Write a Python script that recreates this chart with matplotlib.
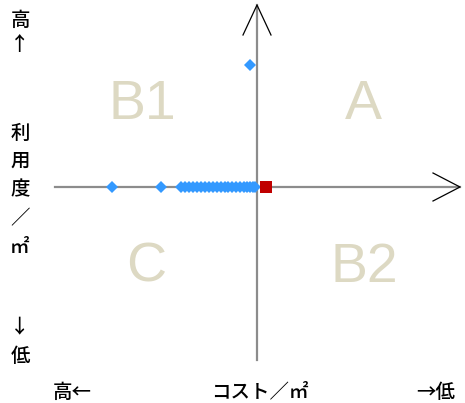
import matplotlib
matplotlib.use("Agg")
import matplotlib.pyplot as plt
from matplotlib import font_manager as fm

# data (cost offset, usage offset) in chart units
cost_blue = [-72.5, -48, -38, -36, -34, -32, -30, -28, -26, -24, -22, -20,
             -18, -16, -14.5, -12.5, -10.5, -8.5, -6.5, -5, -3.5, -2, -1]
usage_blue = [0] * len(cost_blue)
top_cost = [-3.5]
top_usage = [61]
red_cost = [4.5]
red_usage = [0]

quad_labels = ["B1", "A", "C", "B2"]
quad_x = [-57.5, 53, -55.5, 53.5]
quad_y = [41, 41, -40.5, -40.5]

names = {f.name for f in fm.fontManager.ttflist}
big_font = "Liberation Sans Narrow" if "Liberation Sans Narrow" in names else "Liberation Sans"
cjk = ["Noto Sans CJK JP", "DejaVu Sans"]

fig = plt.figure(figsize=(4.65, 4.03), dpi=100)
ax = fig.add_axes([0, 0, 1, 1])
ox, oy = 257, 187
ax.set_xlim(-ox / 2, (465 - ox) / 2)
ax.set_ylim(-(403 - oy) / 2, oy / 2)
ax.axis("off")

# axes lines
ax.plot([-101, 101.5], [0, 0], color="#8c8c8c", lw=1.6, zorder=1)
ax.plot([0, 0], [-86.5, 91], color="#8c8c8c", lw=1.6, zorder=1)
# open arrow heads
ax.plot([88, 101.5, 88], [7, 0, -7], color="black", lw=0.9, zorder=2)
ax.plot([-7, 0, 7], [76, 91, 76], color="black", lw=0.9, zorder=2)

for t, x, y in zip(quad_labels, quad_x, quad_y):
    ax.text(x, y, t, fontsize=40, color="#ddd9c3", ha="center", va="center",
            family=big_font)

ax.plot(cost_blue, usage_blue, "D", color="#3399ff", ms=6.5, mew=0, zorder=3)
ax.plot(top_cost, top_usage, "D", color="#3399ff", ms=6.5, mew=0, zorder=3)
ax.plot(red_cost, red_usage, "s", color="#c00000", ms=8.5, mew=0, zorder=4)

fs = 14
def ptxt(px, py, s, ha="center"):
    ax.text((px - ox) / 2, (oy - py) / 2, s, fontsize=fs, family=cjk,
            ha=ha, va="center", color="black", fontweight="medium")

ptxt(20, 20, "高")
ptxt(20, 45, "↑")
for i, ch in enumerate("利用度／㎡"):
    ptxt(20, 133 + 28.5 * i, ch)
ptxt(20, 327, "↓")
ptxt(20, 357, "低")
ptxt(72, 392, "高←")
ptxt(260, 392, "コスト／㎡")
ptxt(436, 392, "→低")

fig.savefig("out.png", dpi=100)
